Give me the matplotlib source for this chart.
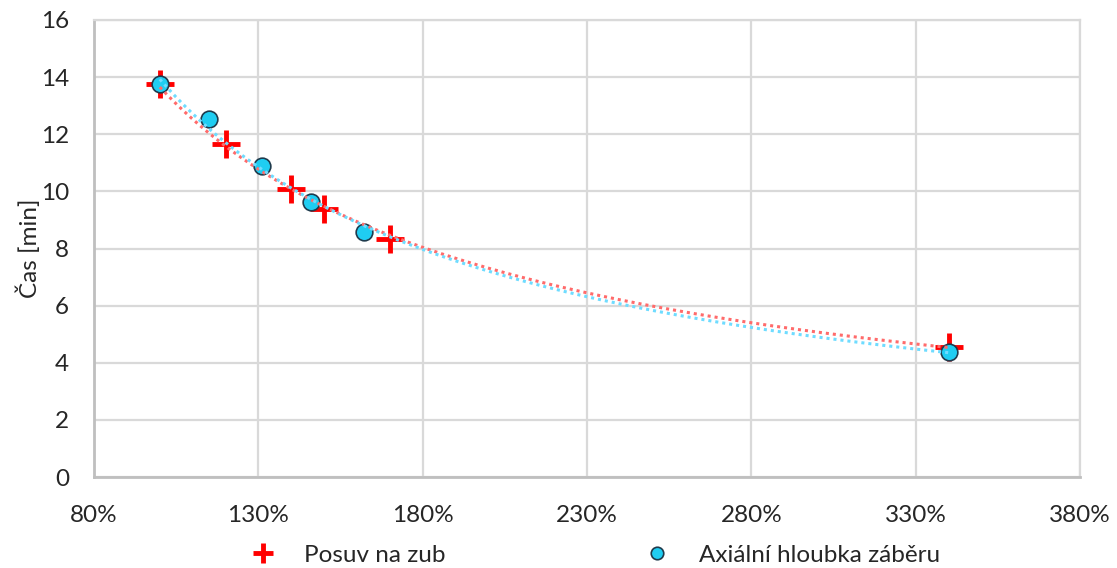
import numpy as np
from matplotlib import pyplot as plt
from matplotlib.ticker import FuncFormatter

# posuv na zub (relativni zmena v %) a cas [min]
posuv_x = [100, 120, 140, 150, 170, 340]
posuv_t = [13.75, 11.65, 10.1, 9.4, 8.35, 4.57]

# axialni hloubka zaberu
hloubka_x = [100, 115, 131, 146, 162, 340]
hloubka_t = [13.77, 12.55, 10.9, 9.62, 8.58, 4.39]

x_ticks = [80, 130, 180, 230, 280, 330, 380]
y_ticks = [0, 2, 4, 6, 8, 10, 12, 14, 16]

plt.rcParams['font.family'] = ['Lato', 'DejaVu Sans']


def powerTrend(xs, ys):
    # mocninna spojnice trendu jako v Excelu
    b, log_a = np.polyfit(np.log(xs), np.log(ys), 1)
    xx = np.linspace(min(xs), max(xs), 200)
    return xx, np.exp(log_a) * xx**b


fig = plt.figure(figsize=(11.17, 5.68), dpi=100)
ax = fig.add_axes([0.0842, 0.160, 0.8827, 0.8048])

p1, = ax.plot(posuv_x, posuv_t, "+", color="#ff0000", markersize=20, mew=3.5,
              linestyle="none", label="Posuv na zub", zorder=3)
p2, = ax.plot(hloubka_x, hloubka_t, "o", color="#1fcdf2", markeredgecolor="#1f3b4d",
              markersize=12, mew=1.2, linestyle="none", label="Axiální hloubka záběru", zorder=4)

tx, ty = powerTrend(posuv_x, posuv_t)
ax.plot(tx, ty, color="#ff6b6b", lw=2.2, linestyle=(0, (1, 1.3)), zorder=5)
tx, ty = powerTrend(hloubka_x, hloubka_t)
ax.plot(tx, ty, color="#6fdcff", lw=2.2, linestyle=(0, (1, 1.3)), zorder=5)

ax.set_xlim(80, 380)
ax.set_ylim(0, 16)
ax.set_xticks(x_ticks)
ax.set_yticks(y_ticks)
ax.xaxis.set_major_formatter(FuncFormatter(lambda v, p: f"{v:.0f}%"))
ax.tick_params(length=0, labelsize=17.5, colors="#262626")
ax.tick_params(axis="y", pad=18)
ax.tick_params(axis="x", pad=20)
ax.grid(color="#d9d9d9", lw=1.6)
ax.set_axisbelow(True)
for side in ["top", "right"]:
    ax.spines[side].set_color("#d9d9d9")
    ax.spines[side].set_linewidth(1.6)
for side in ["left", "bottom"]:
    ax.spines[side].set_color("#bfbfbf")
    ax.spines[side].set_linewidth(2)

ax.set_ylabel("Čas [min]", fontsize=17.5, color="#262626", labelpad=0)

fig.legend(handles=[p1, p2], loc="lower center", bbox_to_anchor=(0.532, -0.035), ncol=2,
           frameon=False, fontsize=17.5, columnspacing=8.1, handletextpad=1.1,
           handlelength=1.2, markerscale=0.75, labelcolor="#262626")

plt.savefig("out.png")
